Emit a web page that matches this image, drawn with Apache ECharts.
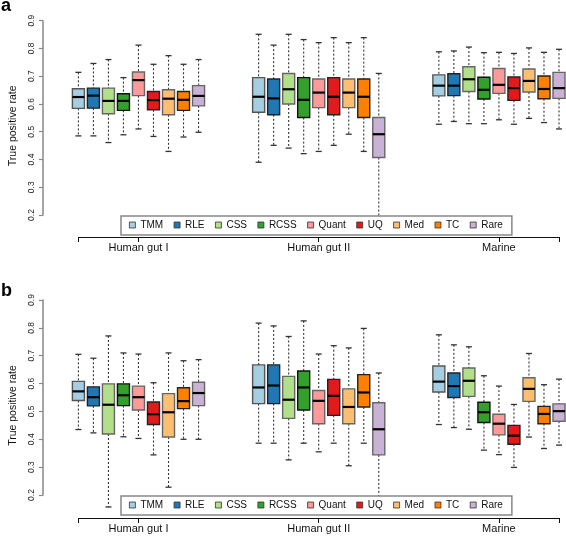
<!DOCTYPE html>
<html><head><meta charset="utf-8">
<script src="https://cdn.jsdelivr.net/npm/echarts@6/dist/echarts.min.js"></script>
<style>html,body{margin:0;padding:0;background:#fff}#c{width:566px;height:537px}</style>
</head><body><div id="c"></div>
<script>
const methods = ['TMM', 'RLE', 'CSS', 'RCSS', 'Quant', 'UQ', 'Med', 'TC', 'Rare'];
const methodColors = ['#A6CEE3', '#1F78B4', '#B2DF8A', '#33A02C', '#FB9A99', '#E31A1C', '#FDBF6F', '#FF7F00', '#CAB2D6'];
const methodBorders = ['#555', '#222', '#666', '#111', '#666', '#222', '#666', '#222', '#666'];
const groups = ['Human gut I', 'Human gut II', 'Marine'];
const panelLabels = ['a', 'b'];

// each row: [lower whisker, Q1, median, Q3, upper whisker], one row per method (order of `methods`)
const aHumanGutI = [
  [0.485, 0.584, 0.625, 0.655, 0.714],
  [0.485, 0.585, 0.630, 0.657, 0.746],
  [0.461, 0.565, 0.611, 0.657, 0.760],
  [0.489, 0.577, 0.611, 0.637, 0.695],
  [0.510, 0.630, 0.686, 0.715, 0.812],
  [0.483, 0.579, 0.614, 0.645, 0.743],
  [0.429, 0.561, 0.619, 0.651, 0.774],
  [0.481, 0.577, 0.615, 0.645, 0.743],
  [0.498, 0.593, 0.629, 0.666, 0.760]
];
const aHumanGutII = [
  [0.390, 0.570, 0.626, 0.695, 0.851],
  [0.451, 0.561, 0.620, 0.690, 0.812],
  [0.441, 0.600, 0.653, 0.710, 0.851],
  [0.421, 0.551, 0.615, 0.695, 0.832],
  [0.429, 0.587, 0.641, 0.690, 0.821],
  [0.451, 0.561, 0.626, 0.695, 0.839],
  [0.491, 0.587, 0.641, 0.690, 0.821],
  [0.429, 0.551, 0.626, 0.690, 0.839],
  [0.150, 0.407, 0.491, 0.551, 0.710]
];
const aMarine = [
  [0.527, 0.629, 0.666, 0.705, 0.788],
  [0.537, 0.630, 0.666, 0.709, 0.791],
  [0.529, 0.645, 0.689, 0.734, 0.805],
  [0.529, 0.618, 0.651, 0.696, 0.785],
  [0.543, 0.638, 0.669, 0.728, 0.786],
  [0.527, 0.613, 0.657, 0.697, 0.782],
  [0.548, 0.643, 0.683, 0.726, 0.802],
  [0.533, 0.619, 0.654, 0.701, 0.786],
  [0.510, 0.620, 0.657, 0.714, 0.797]
];
const bHumanGutI = [
  [0.435, 0.539, 0.572, 0.608, 0.705],
  [0.423, 0.520, 0.551, 0.588, 0.691],
  [0.157, 0.419, 0.524, 0.599, 0.771],
  [0.409, 0.521, 0.558, 0.599, 0.710],
  [0.403, 0.505, 0.551, 0.591, 0.706],
  [0.344, 0.453, 0.490, 0.534, 0.603],
  [0.228, 0.408, 0.497, 0.564, 0.710],
  [0.400, 0.510, 0.537, 0.585, 0.682],
  [0.400, 0.521, 0.566, 0.605, 0.686]
];
const bHumanGutII = [
  [0.386, 0.528, 0.586, 0.667, 0.817],
  [0.386, 0.528, 0.593, 0.667, 0.807],
  [0.326, 0.475, 0.542, 0.626, 0.769],
  [0.386, 0.505, 0.586, 0.645, 0.825],
  [0.355, 0.456, 0.538, 0.575, 0.706],
  [0.386, 0.486, 0.556, 0.615, 0.736],
  [0.305, 0.456, 0.516, 0.581, 0.728],
  [0.386, 0.516, 0.568, 0.632, 0.798],
  [0.150, 0.344, 0.436, 0.531, 0.638]
];
const bMarine = [
  [0.453, 0.570, 0.607, 0.663, 0.775],
  [0.442, 0.550, 0.591, 0.638, 0.739],
  [0.436, 0.554, 0.610, 0.656, 0.732],
  [0.361, 0.460, 0.497, 0.533, 0.628],
  [0.345, 0.416, 0.456, 0.490, 0.591],
  [0.299, 0.382, 0.413, 0.450, 0.525],
  [0.408, 0.536, 0.581, 0.621, 0.708],
  [0.367, 0.456, 0.491, 0.518, 0.596],
  [0.379, 0.465, 0.501, 0.527, 0.616]
];
const yTickValues = [0.2, 0.3, 0.4, 0.5, 0.6, 0.7, 0.8, 0.9];

const panels = [
  [aHumanGutI, aHumanGutII, aMarine],
  [bHumanGutI, bHumanGutII, bMarine]
];

const FONT = '"Liberation Sans", Arial, Helvetica, sans-serif';
const slotsPerGroup = methods.length + 3;
const groupCenter = gi => gi * slotsPerGroup + (methods.length + 1) / 2;
const firstPos = 1;
const lastPos = (groups.length - 1) * slotsPerGroup + methods.length;

function renderItem(params, api) {
  const x = api.value(0);
  const lo = api.coord([x, api.value(1)]);
  const q1 = api.coord([x, api.value(2)]);
  const md = api.coord([x, api.value(3)]);
  const q3 = api.coord([x, api.value(4)]);
  const hi = api.coord([x, api.value(5)]);
  const unit = api.size([1, 0])[0];
  const bw = unit * 0.8;
  const cw = bw * 0.5;
  const cx = lo[0];
  const m = params.seriesIndex % methods.length;
  const fill = methodColors[m];
  const border = methodBorders[m];
  const wStyle = { stroke: '#333', lineWidth: 1.1, lineDash: [2, 2] };
  const cStyle = { stroke: '#333', lineWidth: 1.3 };
  return {
    type: 'group',
    children: [
      { type: 'line', shape: { x1: cx, y1: hi[1], x2: cx, y2: q3[1] }, style: wStyle },
      { type: 'line', shape: { x1: cx, y1: q1[1], x2: cx, y2: lo[1] }, style: wStyle },
      { type: 'line', shape: { x1: cx - cw / 2, y1: hi[1], x2: cx + cw / 2, y2: hi[1] }, style: cStyle },
      { type: 'line', shape: { x1: cx - cw / 2, y1: lo[1], x2: cx + cw / 2, y2: lo[1] }, style: cStyle },
      { type: 'rect', shape: { x: cx - bw / 2, y: q3[1], width: bw, height: q1[1] - q3[1] },
        style: { fill: fill, stroke: border, lineWidth: 1.4 } },
      { type: 'line', shape: { x1: cx - bw / 2, y1: md[1], x2: cx + bw / 2, y2: md[1] },
        style: { stroke: '#000', lineWidth: 2.2 } }
    ]
  };
}

const gridTop = [20.7, 300];
const gridBottomPx = [215, 495];
const axisOffset = [22, 23];

const grids = [], xAxes = [], yAxes = [], series = [], legends = [], titles = [];
panels.forEach((panel, p) => {
  grids.push({ left: 73, right: 566 - 559, top: gridTop[p], height: gridBottomPx[p] - gridTop[p] });
  xAxes.push({
    type: 'value', gridIndex: p, min: firstPos, max: lastPos, offset: axisOffset[p],
    splitLine: { show: false },
    axisLine: { show: true, lineStyle: { color: '#111', width: 1 } },
    axisTick: { show: true, length: 5, lineStyle: { color: '#111' },
      customValues: [firstPos].concat(groups.map((g, gi) => groupCenter(gi)), [lastPos]) },
    axisLabel: { show: true, margin: 5, fontSize: 11, color: '#111', fontFamily: FONT,
      customValues: groups.map((g, gi) => groupCenter(gi)),
      formatter: v => { const gi = groups.findIndex((g, i) => groupCenter(i) === v); return gi >= 0 ? groups[gi] : ''; } }
  });
  yAxes.push({
    type: 'value', gridIndex: p, min: 0.2, max: 0.9, interval: 0.1, offset: 73 - 37.5,
    splitLine: { show: false },
    axisLine: { show: true, lineStyle: { color: '#888', width: 1.5 } },
    axisTick: { show: true, length: 4, lineStyle: { color: '#888', width: 1.2 }, customValues: yTickValues },
    axisLabel: { rotate: 90, margin: 7, fontSize: 8.5, color: '#222', fontFamily: FONT,
      customValues: yTickValues, formatter: v => v.toFixed(1) },
    name: 'True positive rate', nameLocation: 'middle', nameGap: 21,
    nameTextStyle: { fontSize: 10.5, color: '#111', fontFamily: FONT, padding: [0, 16, 0, 0] }
  });
  methods.forEach((name, m) => {
    series.push({
      name: name, type: 'custom', xAxisIndex: p, yAxisIndex: p,
      renderItem: renderItem, clip: false, z: 2,
      itemStyle: { color: methodColors[m], borderColor: methodBorders[m] },
      encode: { x: 0, y: [1, 2, 3, 4, 5] },
      data: groups.map((g, gi) => [gi * slotsPerGroup + m + 1].concat(panel[gi][m]))
    });
  });
  legends.push({
    data: methods, orient: 'horizontal', left: 121, top: gridBottomPx[p] + 1,
    padding: [4, 9, 5, 8], itemGap: 10.5, itemWidth: 6, itemHeight: 6,
    icon: 'rect', selectedMode: false,
    backgroundColor: '#fff', borderColor: '#888', borderWidth: 1.5, z: 10,
    itemStyle: { borderColor: '#333', borderWidth: 0.8 },
    textStyle: { fontSize: 10, color: '#111', fontFamily: FONT }
  });
  titles.push({ text: panelLabels[p], left: 1, top: p === 0 ? -3 : 282, padding: 0,
    textStyle: { fontSize: 18, fontWeight: 'bold', color: '#000', fontFamily: FONT } });
});

const chart = echarts.init(document.getElementById('c'), null, { renderer: 'canvas' });
chart.setOption({
  animation: false,
  backgroundColor: '#fff',
  title: titles,
  grid: grids,
  xAxis: xAxes,
  yAxis: yAxes,
  legend: legends,
  series: series
});
</script>
</body></html>
